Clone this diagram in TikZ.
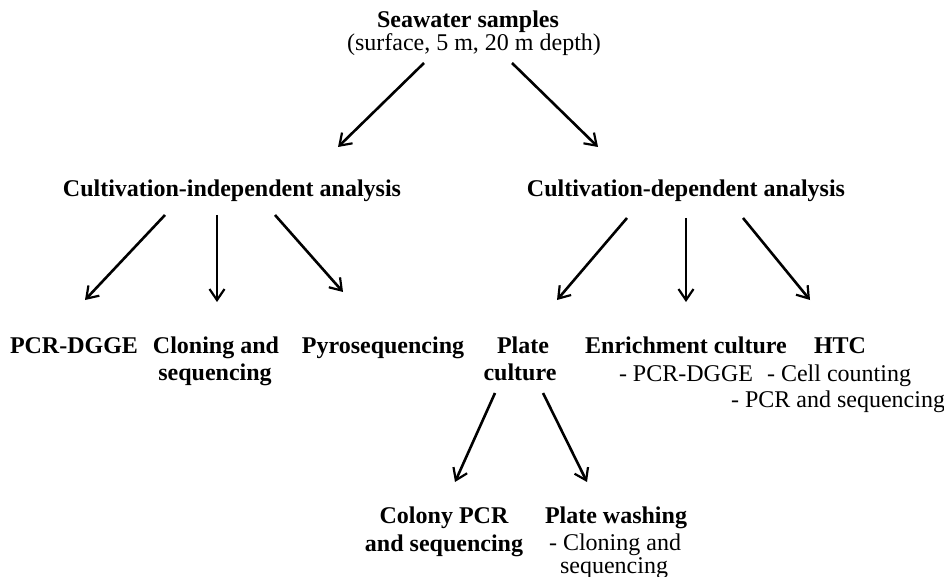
\documentclass[tikz,border=0pt]{standalone}
\usepackage{fontspec}
\setmainfont{Liberation Serif}
\usetikzlibrary{arrows.meta}
\tikzset{
  txt/.style={anchor=base, inner sep=0pt, font=\fontsize{24}{27}\selectfont},
  ttl/.style={txt, font=\fontsize{24}{27}\selectfont\bfseries},
  arr/.style={line width=2.6pt, -{Straight Barb[length=11pt,width=15pt,line width=2.2pt]}}
}
\begin{document}
\begin{tikzpicture}[x=1pt,y=-1pt]
\useasboundingbox (0,0) rectangle (944,577);
\node[ttl] (sea) at (468,28) {Seawater samples};
\node[txt] (seasub) at (474,51) {(surface, 5 m, 20 m depth)};
\node[ttl] (ci) at (232,197) {Cultivation-independent analysis};
\node[ttl] (cd) at (686,197) {Cultivation-dependent analysis};
\node[ttl] (pcr) at (74,353) {PCR-DGGE};
\node[ttl] (clon1) at (216,353) {Cloning and};
\node[ttl] (clon2) at (215,380) {sequencing};
\node[ttl] (pyro) at (383,353) {Pyrosequencing};
\node[ttl] (plate1) at (523,353) {Plate};
\node[ttl] (plate2) at (520,380) {culture};
\node[ttl] (enr) at (686,353) {Enrichment culture};
\node[txt] (enrsub) at (686,381) {- PCR-DGGE};
\node[ttl] (htc) at (840,353) {HTC};
\node[txt] (htc2) at (839,381) {- Cell counting};
\node[txt] (htc3) at (838,407) {- PCR and sequencing};
\node[ttl] (col1) at (444,523) {Colony PCR};
\node[ttl] (col2) at (444,551) {and sequencing};
\node[ttl] (pw) at (616,523) {Plate washing};
\node[txt] (pw2) at (615,550) {- Cloning and};
\node[txt] (pw3) at (614,573) {sequencing};
% arrows
\draw[arr] ([shift={(-44,35)}]sea.base) -- ([shift={(106,-50)}]ci.base);
\draw[arr] ([shift={(44,35)}]sea.base) -- ([shift={(-88,-50)}]cd.base);
\draw[arr] ([shift={(-67,18)}]ci.base) -- ([shift={(11,-53)}]pcr.base);
\draw[arr] ([shift={(-15,18)}]ci.base) -- ([shift={(1,-51)}]clon1.base);
\draw[arr] ([shift={(43,18)}]ci.base) -- ([shift={(-40,-61)}]pyro.base);
\draw[arr] ([shift={(-59,21)}]cd.base) -- ([shift={(34,-53)}]plate1.base);
\draw[arr] ([shift={(0,21)}]cd.base) -- ([shift={(0,-51)}]enr.base);
\draw[arr] ([shift={(57,21)}]cd.base) -- ([shift={(-30,-53)}]htc.base);
\draw[arr] ([shift={(-25,13)}]plate2.base) -- ([shift={(11,-41)}]col1.base);
\draw[arr] ([shift={(23,13)}]plate2.base) -- ([shift={(-29,-41)}]pw.base);
\end{tikzpicture}
\end{document}
